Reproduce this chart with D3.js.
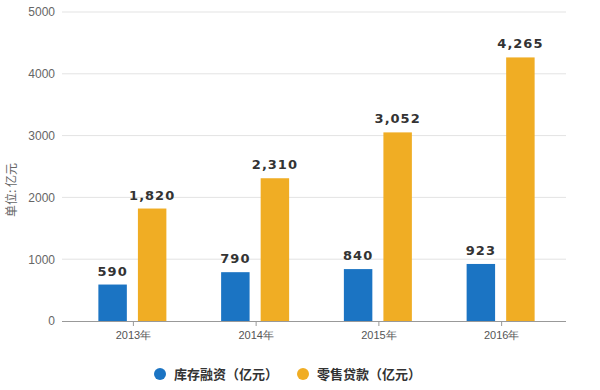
<!DOCTYPE html>
<html>
<head>
<meta charset="utf-8">
<script src="https://cdn.jsdelivr.net/npm/d3@7/dist/d3.min.js"></script>
<style>
  body { margin: 0; background: #fff; }
  svg { display: block; font-family: "Noto Sans CJK SC", "Noto Sans", sans-serif; }
</style>
</head>
<body>
<div id="chart"></div>
<script>
// chart data
const years = ['2013年', '2014年', '2015年', '2016年'];
const seriesNames = ['库存融资（亿元）', '零售贷款（亿元）'];
const inventoryFinance = [590, 790, 840, 923];
const retailLoans = [1820, 2310, 3052, 4265];
const yTicks = [0, 1000, 2000, 3000, 4000, 5000];
const colors = ['#1b74c3', '#f0ad24'];

const width = 600, height = 390;
const svg = d3.select('#chart').append('svg')
    .attr('width', width)
    .attr('height', height);

const x = d3.scaleBand().domain(years).range([72, 563]).padding(0);
const y = d3.scaleLinear().domain([0, 5000]).range([321, 12]);
const inner = d3.scaleBand().domain([0, 1]).range([-35, 33]).paddingInner(0.28);

// gridlines
svg.append('g')
    .selectAll('line')
    .data(yTicks.filter(d => d > 0))
    .enter().append('line')
    .attr('x1', 62).attr('x2', 566)
    .attr('y1', d => y(d)).attr('y2', d => y(d))
    .style('stroke', '#e3e3e3')
    .style('stroke-width', 1);

// y axis labels
const yAxis = svg.append('g')
    .attr('transform', 'translate(62,0)')
    .call(d3.axisLeft(y).tickValues(yTicks).tickSize(0).tickPadding(7).tickFormat(d3.format('d')));
yAxis.select('.domain').remove();
yAxis.selectAll('text')
    .style('fill', '#666')
    .style('font-size', '12px')
    .style('font-family', 'Arial, "Liberation Sans", sans-serif');

// y title
svg.append('text')
    .attr('transform', 'translate(16,190) rotate(-90)')
    .attr('text-anchor', 'middle')
    .style('fill', '#666')
    .style('font-size', '12px')
    .text('单位: 亿元');

// bars
const rows = years.map((yr, i) => ({ year: yr, values: [inventoryFinance[i], retailLoans[i]] }));
const groups = svg.append('g')
    .selectAll('g')
    .data(rows)
    .enter().append('g')
    .attr('transform', d => `translate(${x(d.year) + x.bandwidth() / 2},0)`);

groups.selectAll('rect')
    .data(d => d.values.map((v, k) => ({ v, k })))
    .enter().append('rect')
    .attr('x', d => inner(d.k))
    .attr('width', inner.bandwidth())
    .attr('y', d => y(d.v))
    .attr('height', d => y(0) - y(d.v))
    .style('fill', d => colors[d.k]);

groups.selectAll('text')
    .data(d => d.values.map((v, k) => ({ v, k })))
    .enter().append('text')
    .attr('x', d => inner(d.k) + inner.bandwidth() / 2)
    .attr('y', d => y(d.v) - 9)
    .attr('text-anchor', 'middle')
    .style('fill', '#333')
    .style('font-size', '13px')
    .style('font-weight', 'bold')
    .style('letter-spacing', '1px')
    .style('font-family', '"DejaVu Sans", sans-serif')
    .text(d => d3.format(',')(d.v));

// x axis
const xAxis = svg.append('g')
    .attr('transform', 'translate(0,321)')
    .call(d3.axisBottom(x).tickSize(5).tickPadding(5));
xAxis.select('.domain')
    .attr('d', 'M62,0.5H566')
    .style('stroke', '#999');
xAxis.selectAll('.tick line').style('stroke', '#999');
xAxis.selectAll('text')
    .style('fill', '#555')
    .style('font-size', '11px');

// legend
const legend = svg.append('g')
    .selectAll('g')
    .data(seriesNames)
    .enter().append('g')
    .attr('transform', (d, i) => `translate(${160 + i * 143},374)`);
legend.append('circle')
    .attr('r', 6)
    .style('fill', (d, i) => colors[i]);
legend.append('text')
    .attr('x', 14)
    .attr('dy', '0.35em')
    .style('fill', '#333')
    .style('font-size', '13px')
    .style('font-weight', 'bold')
    .text(d => d);
</script>
</body>
</html>
